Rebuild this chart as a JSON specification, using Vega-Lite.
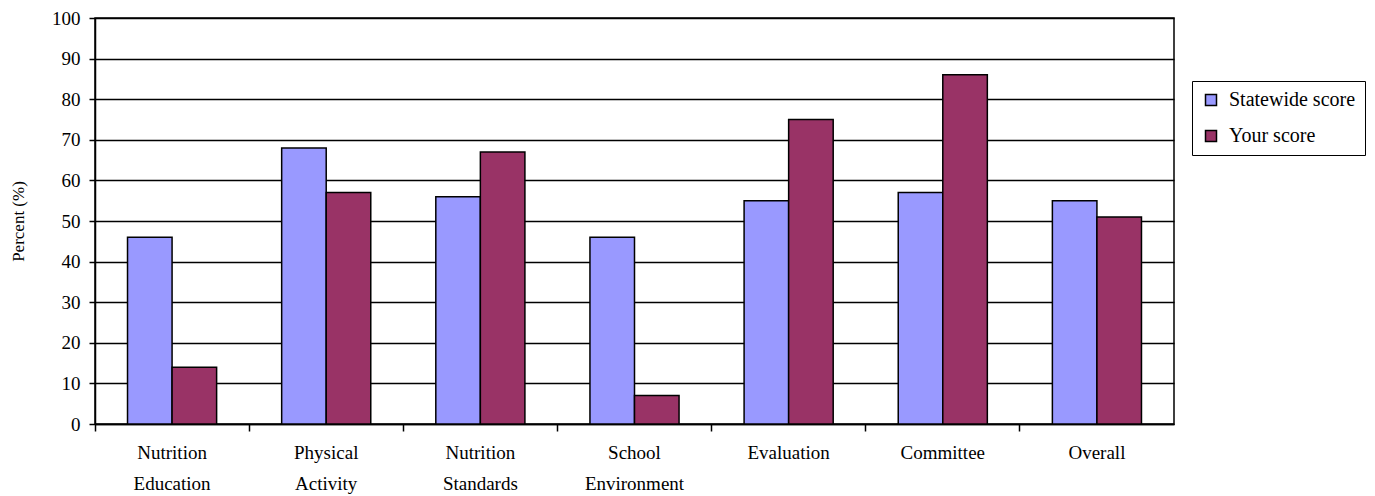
{
  "$schema": "https://vega.github.io/schema/vega-lite/v6.json",
  "width": 1079,
  "height": 406,
  "autosize": {"type": "none"},
  "padding": {"left": 95, "top": 18, "right": 201, "bottom": 72},
  "background": "white",
  "config": {
    "font": "'Liberation Serif', serif",
    "view": {"stroke": "black", "strokeWidth": 1.5}
  },
  "data": {
    "values": [
      {"category": "Nutrition Education", "series": "Statewide score", "value": 46},
      {"category": "Nutrition Education", "series": "Your score", "value": 14},
      {"category": "Physical Activity", "series": "Statewide score", "value": 68},
      {"category": "Physical Activity", "series": "Your score", "value": 57},
      {"category": "Nutrition Standards", "series": "Statewide score", "value": 56},
      {"category": "Nutrition Standards", "series": "Your score", "value": 67},
      {"category": "School Environment", "series": "Statewide score", "value": 46},
      {"category": "School Environment", "series": "Your score", "value": 7},
      {"category": "Evaluation", "series": "Statewide score", "value": 55},
      {"category": "Evaluation", "series": "Your score", "value": 75},
      {"category": "Committee", "series": "Statewide score", "value": 57},
      {"category": "Committee", "series": "Your score", "value": 86},
      {"category": "Overall", "series": "Statewide score", "value": 55},
      {"category": "Overall", "series": "Your score", "value": 51}
    ]
  },
  "mark": {"type": "bar", "stroke": "black", "strokeWidth": 1.5},
  "encoding": {
    "x": {
      "field": "category",
      "type": "nominal",
      "sort": null,
      "scale": {"paddingInner": 0, "paddingOuter": 0},
      "axis": {
        "title": null,
        "labelAngle": 0,
        "labelExpr": "split(datum.label, ' ')",
        "labelFont": "'Liberation Serif', serif",
        "labelFontSize": 19,
        "labelLineHeight": 31,
        "labelColor": "black",
        "labelPadding": 12,
        "bandPosition": 0,
        "tickColor": "black",
        "tickSize": 7,
        "tickWidth": 1.5,
        "domainColor": "black",
        "domainWidth": 1.5,
        "grid": false,
        "labelBaseline": "top"
      }
    },
    "xOffset": {
      "field": "series",
      "type": "nominal",
      "scale": {"paddingInner": 0, "paddingOuter": 0.73}
    },
    "y": {
      "field": "value",
      "type": "quantitative",
      "scale": {"domain": [0, 100], "nice": false},
      "axis": {
        "title": "Percent (%)",
        "titleFont": "'Liberation Serif', serif",
        "titleFontSize": 17,
        "titleFontWeight": "normal",
        "titleColor": "black",
        "titlePadding": 24,
        "values": [0, 10, 20, 30, 40, 50, 60, 70, 80, 90, 100],
        "labelFont": "'Liberation Serif', serif",
        "labelFontSize": 19,
        "labelColor": "black",
        "labelPadding": 9,
        "tickColor": "black",
        "tickSize": 6,
        "tickWidth": 1.5,
        "domainColor": "black",
        "domainWidth": 1.5,
        "grid": true,
        "gridColor": "black",
        "gridWidth": 1.5,
        "gridOpacity": 1
      }
    },
    "color": {
      "field": "series",
      "type": "nominal",
      "scale": {"domain": ["Statewide score", "Your score"], "range": ["#9999FF", "#993366"]},
      "legend": {
        "title": null,
        "orient": "none",
        "legendX": 1097,
        "legendY": 63,
        "strokeColor": "black",
        "padding": 9,
        "symbolType": "square",
        "symbolSize": 121,
        "symbolStrokeColor": "black",
        "symbolStrokeWidth": 1.5,
        "labelFontSize": 20,
        "labelColor": "black",
        "labelFont": "'Liberation Serif', serif",
        "rowPadding": 16,
        "labelOffset": 8,
        "fillColor": "white"
      }
    }
  }
}
